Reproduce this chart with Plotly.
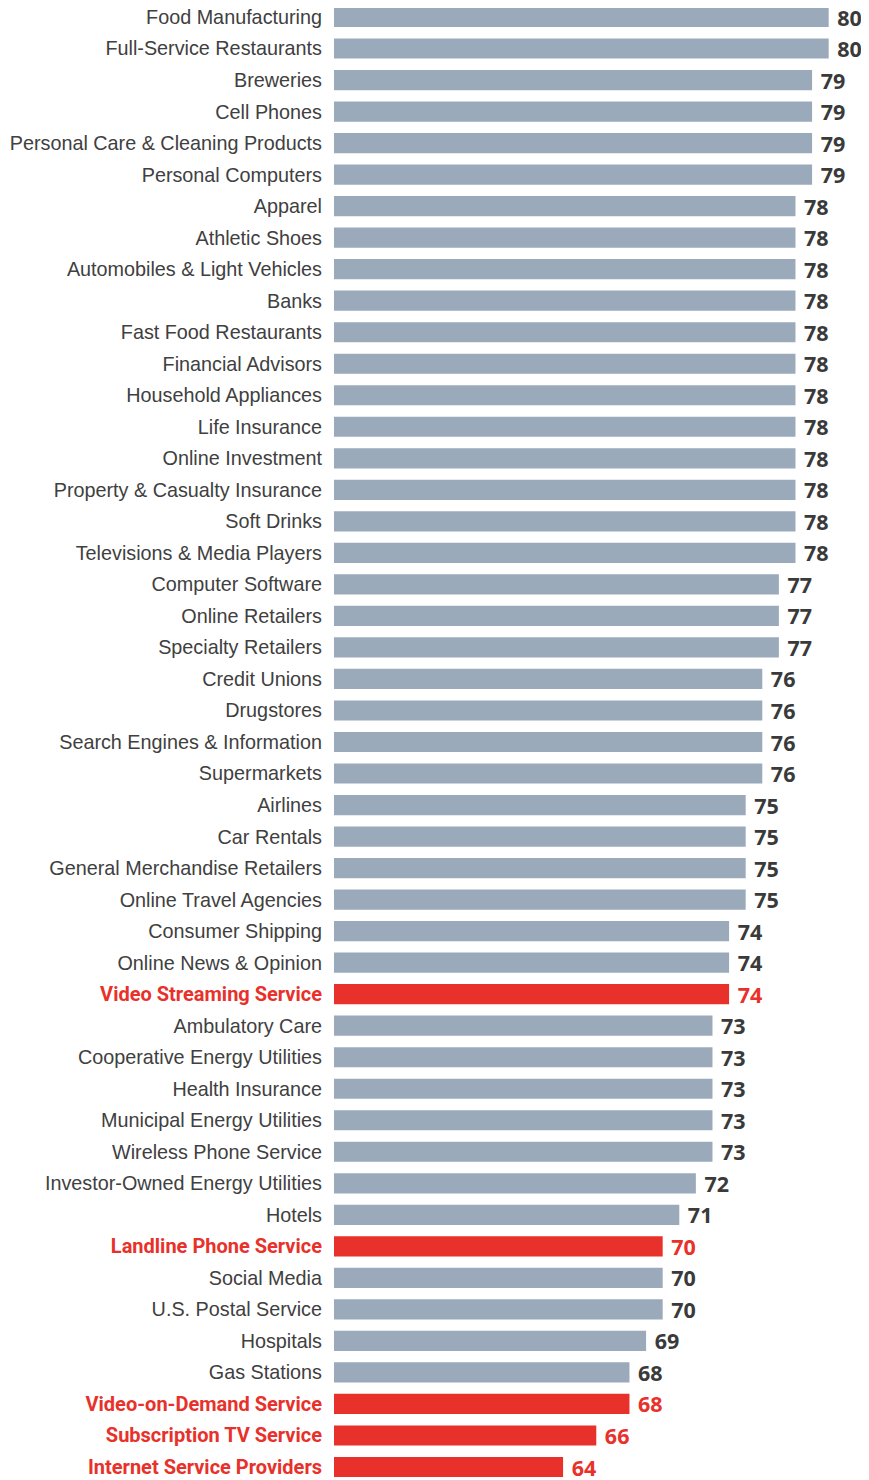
import plotly.graph_objects as go

categories = [
    "Food Manufacturing", "Full-Service Restaurants", "Breweries", "Cell Phones",
    "Personal Care & Cleaning Products", "Personal Computers", "Apparel", "Athletic Shoes",
    "Automobiles & Light Vehicles", "Banks", "Fast Food Restaurants", "Financial Advisors",
    "Household Appliances", "Life Insurance", "Online Investment", "Property & Casualty Insurance",
    "Soft Drinks", "Televisions & Media Players", "Computer Software", "Online Retailers",
    "Specialty Retailers", "Credit Unions", "Drugstores", "Search Engines & Information",
    "Supermarkets", "Airlines", "Car Rentals", "General Merchandise Retailers",
    "Online Travel Agencies", "Consumer Shipping", "Online News & Opinion",
    "Video Streaming Service", "Ambulatory Care", "Cooperative Energy Utilities",
    "Health Insurance", "Municipal Energy Utilities", "Wireless Phone Service",
    "Investor-Owned Energy Utilities", "Hotels", "Landline Phone Service", "Social Media",
    "U.S. Postal Service", "Hospitals", "Gas Stations", "Video-on-Demand Service",
    "Subscription TV Service", "Internet Service Providers",
]
scores = [80, 80, 79, 79, 79, 79, 78, 78, 78, 78, 78, 78, 78, 78, 78, 78, 78, 78,
          77, 77, 77, 76, 76, 76, 76, 75, 75, 75, 75, 74, 74, 74, 73, 73, 73, 73, 73,
          72, 71, 70, 70, 70, 69, 68, 68, 66, 64]
highlighted = ["Video Streaming Service", "Landline Phone Service", "Video-on-Demand Service",
               "Subscription TV Service", "Internet Service Providers"]

GRAY = "#9AAABB"
RED = "#E8312A"
TEXT_GRAY = "#404040"
VAL_GRAY = "#3A3A3A"

bar_colors = [RED if c in highlighted else GRAY for c in categories]
val_colors = [RED if c in highlighted else VAL_GRAY for c in categories]
tick_text = [
    f"<b><span style='color:{RED};font-family:Roboto;font-size:20px'>{c.replace('&', '&amp;')}</span></b>"
    if c in highlighted
    else c.replace('&', '&amp;')
    for c in categories
]

fig = go.Figure(go.Bar(
    x=scores,
    y=categories,
    orientation="h",
    marker=dict(color=bar_colors, line=dict(width=0)),
    text=scores,
    texttemplate=" %{text}",
    textposition="outside",
    constraintext="none",
    textfont=dict(family="Open Sans, sans-serif", size=21.5, color=val_colors, weight="bold"),
    cliponaxis=False,
    hoverinfo="skip",
))

# page body has an 8px offset, so the figure is sized to the remaining area
OFF = 8
W = 869 - OFF
H = 1480 - OFF
n = len(categories)
first_c = 17 - OFF
last_c = 1467 - OFF
pitch = (last_c - first_c) / (n - 1)
top_idx = -first_c / pitch
bot_idx = (H - first_c) / pitch

left = 334 - OFF
fig.update_layout(
    width=W,
    height=H,
    margin=dict(l=left, r=0, t=0, b=0, autoexpand=False),
    paper_bgcolor="white",
    plot_bgcolor="white",
    bargap=0.36,
    showlegend=False,
    xaxis=dict(range=[50.2, 50.2 + (W - left) / 16.6], visible=False, fixedrange=True),
    yaxis=dict(
        type="category",
        categoryorder="array",
        categoryarray=categories,
        tickmode="array",
        tickvals=categories,
        ticktext=tick_text,
        range=[bot_idx, top_idx],
        showgrid=False,
        zeroline=False,
        showline=False,
        ticks="",
        ticklabelstandoff=11,
        automargin=False,
        tickfont=dict(family="Liberation Sans, Arial, sans-serif", size=19.8, color=TEXT_GRAY),
        fixedrange=True,
    ),
)

fig.write_html("out.html")
